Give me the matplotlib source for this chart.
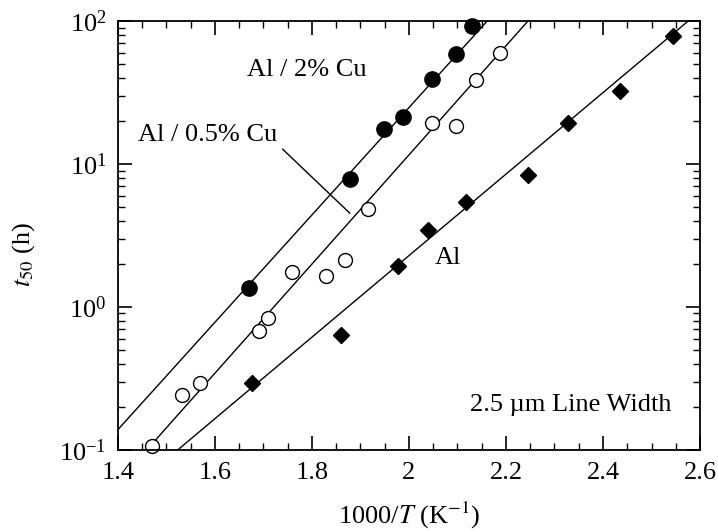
import numpy as np
import matplotlib
matplotlib.use("Agg")
import matplotlib.pyplot as plt
from matplotlib.ticker import MultipleLocator, LogLocator, NullFormatter

plt.rcParams['font.family'] = ['Liberation Serif', 'DejaVu Serif']
plt.rcParams['mathtext.fontset'] = 'stix'

# median time to failure vs 1000/T
al2cu_x = [1.670, 1.878, 1.948, 1.988, 2.047, 2.097, 2.130]
al2cu_t = [1.36, 7.9, 17.6, 21.3, 39.3, 58.8, 93.0]

al05cu_x = [1.470, 1.532, 1.569, 1.691, 1.710, 1.760, 1.829, 1.868, 1.915, 2.047, 2.098, 2.138, 2.188]
al05cu_t = [0.107, 0.243, 0.294, 0.68, 0.84, 1.76, 1.65, 2.13, 4.84, 19.4, 18.5, 39.0, 59.7]

al_x = [1.676, 1.860, 1.977, 2.039, 2.118, 2.245, 2.328, 2.435, 2.544]
al_t = [0.294, 0.64, 1.94, 3.45, 5.42, 8.37, 19.4, 32.4, 78.5]

# straight fit lines as drawn (end points in data units)
al2cu_fit_x = [1.40, 2.161]
al2cu_fit_t = [0.138, 100.0]
al05cu_fit_x = [1.460, 2.245]
al05cu_fit_t = [0.1, 100.0]
al_fit_x = [1.524, 2.575]
al_fit_t = [0.1, 100.0]

fs = 19

fig = plt.figure(figsize=(7.18, 5.31), dpi=100)
ax = fig.add_axes([0.164, 0.153, 0.811, 0.807])

ax.plot(al2cu_fit_x, al2cu_fit_t, color='black', lw=1.0)
ax.plot(al05cu_fit_x, al05cu_fit_t, color='black', lw=1.0)
ax.plot(al_fit_x, al_fit_t, color='black', lw=1.0)

ax.plot(al2cu_x, al2cu_t, 'o', ms=11, mfc='black', mec='black', clip_on=False)
ax.plot(al05cu_x, al05cu_t, 'o', ms=10, mfc='white', mec='black', mew=1.0, clip_on=False)
ax.plot(al_x, al_t, 'D', ms=8, mfc='black', mec='black', clip_on=False)

ax.set_yscale('log')
ax.set_xlim(1.4, 2.6)
ax.set_ylim(0.1, 100)

ax.xaxis.set_minor_locator(MultipleLocator(0.05))
ax.set_xticks([1.4, 1.6, 1.8, 2.0, 2.2, 2.4, 2.6])
ax.set_xticklabels(['1.4', '1.6', '1.8', '2', '2.2', '2.4', '2.6'])
ax.yaxis.set_minor_locator(LogLocator(base=10, subs=np.arange(2, 10)))
ax.yaxis.set_minor_formatter(NullFormatter())

ax.tick_params(which='both', direction='in', top=True, right=True, labelsize=fs)
ax.tick_params(which='major', length=10, width=1.2)
ax.tick_params(which='minor', length=5, width=1.0)
ax.tick_params(axis='x', pad=9)
ax.tick_params(axis='y', pad=8)
for s in ax.spines.values():
    s.set_linewidth(1.3)

ax.set_xlabel('1000/$T$ (K$^{-1}$)', fontsize=fs, labelpad=11)
ax.set_ylabel('$t_{50}$ (h)', fontsize=fs)
ax.yaxis.set_label_coords(-0.139, 0.455)

ax.text(1.666, 45.4, 'Al / 2% Cu', fontsize=fs, va='center', ha='left')
ax.text(1.441, 16.0, 'Al / 0.5% Cu', fontsize=fs, va='center', ha='left')
ax.plot([1.740, 1.878], [12.7, 4.54], color='black', lw=1.0)
ax.text(2.054, 2.2, 'Al', fontsize=fs, va='center', ha='left')
ax.text(2.542, 0.206, '2.5 µm Line Width', fontsize=fs, va='center', ha='right')

fig.savefig('out.png', dpi=100)
